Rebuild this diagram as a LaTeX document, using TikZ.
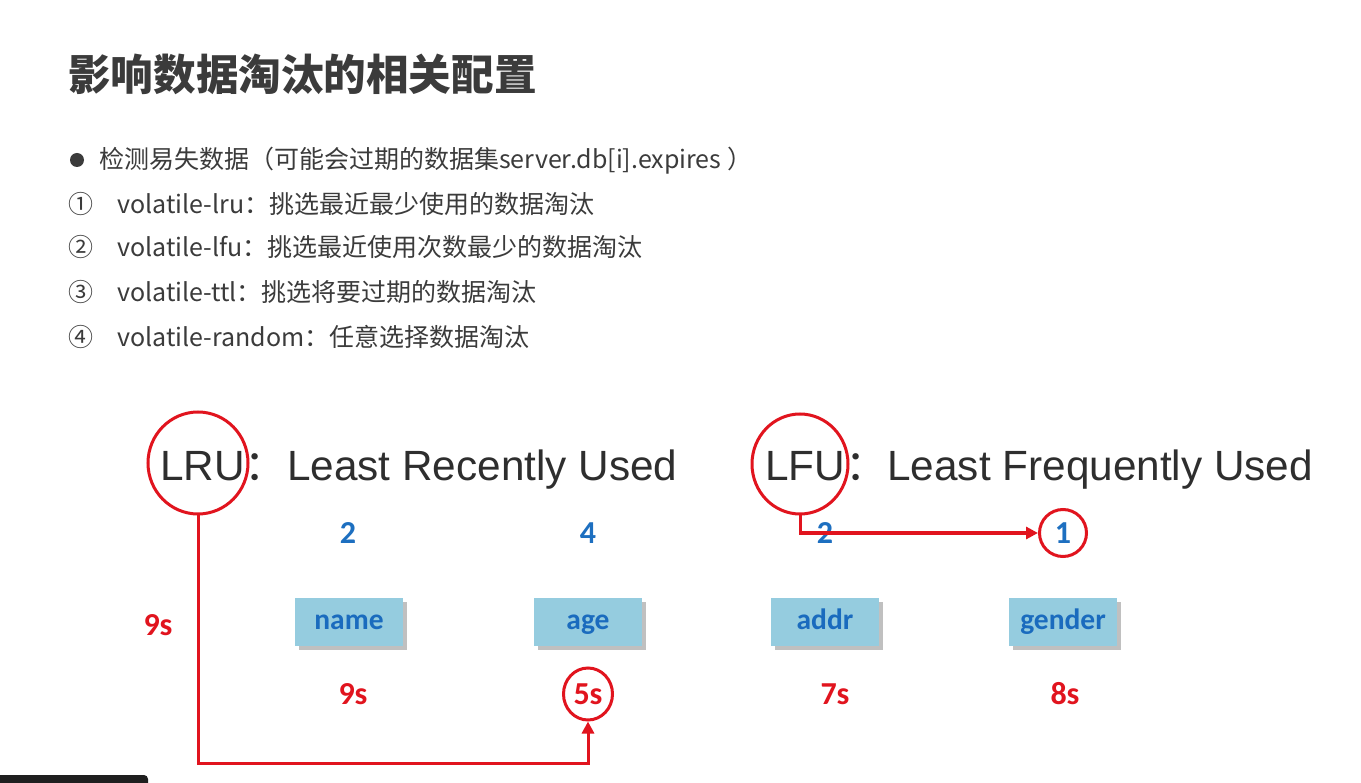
\documentclass[tikz,border=0pt]{standalone}
\usepackage{fontspec}
\setmainfont{Noto Sans CJK SC}
\newfontfamily\cjkfont{Noto Sans CJK SC}
\newfontfamily\headfont{Liberation Sans}
\newfontfamily\labelfont{Carlito}
\usetikzlibrary{arrows.meta,shadows,shapes.geometric}
\definecolor{txt}{HTML}{3B3B3B}
\definecolor{headtxt}{HTML}{2E2E2E}
\definecolor{mark}{HTML}{E1141E}
\definecolor{numblue}{HTML}{1D6FC0}
\definecolor{keyfill}{HTML}{95CCDF}
\definecolor{keytext}{HTML}{1A6BBE}
\begin{document}
\begin{tikzpicture}[x=1pt,y=-1pt,
  title/.style={anchor=base west, inner sep=0, text=txt,
    font=\cjkfont\bfseries\fontsize{42.6}{50}\selectfont},
  item/.style={anchor=base west, inner sep=0, text=txt,
    font=\cjkfont\fontsize{25}{30}\selectfont},
  heading/.style={anchor=base west, inner sep=0, text=headtxt,
    font=\headfont\fontsize{42.3}{50}\selectfont},
  count/.style={inner sep=0, text=numblue,
    font=\labelfont\bfseries\fontsize{32}{38}\selectfont},
  ttl/.style={inner sep=0, text=mark,
    font=\labelfont\bfseries\fontsize{32}{38}\selectfont},
  key/.style={fill=keyfill, minimum width=108pt, minimum height=48pt,
    inner sep=0, text=keytext, text height=21pt, text depth=6pt,
    font=\labelfont\bfseries\fontsize{29.5}{35}\selectfont,
    drop shadow={shadow xshift=4pt, shadow yshift=-4pt, opacity=0.35, fill=black!70}},
  ring/.style={ellipse, draw=mark, line width=3pt},
  link/.style={draw=mark, line width=3pt, -{Triangle[length=12pt,width=12pt]}}
]
\useasboundingbox (0,0) rectangle (1361,783);
\fill[white] (0,0) rectangle (1361,783);

% title and the list of volatile policies
\node[title] (title) at (68,91) {影响数据淘汰的相关配置};
\node[circle, fill=txt, minimum size=14pt, inner sep=0] (dot) at (77,160) {};
\node[item] (l0) at (99,169) {检测易失数据（可能会过期的数据集server.db[i].expires ）};
\node[item] (n1) at (68,214) {①};
\node[item] (l1) at (117,214) {volatile-lru：挑选最近最少使用的数据淘汰};
\node[item] (n2) at (68,257) {②};
\node[item] (l2) at (117,257) {volatile-lfu：挑选最近使用次数最少的数据淘汰};
\node[item] (n3) at (68,302) {③};
\node[item] (l3) at (117,302) {volatile-ttl：挑选将要过期的数据淘汰};
\node[item] (n4) at (68,347) {④};
\node[item] (l4) at (117,347) {volatile-random：任意选择数据淘汰};

% LRU / LFU headings
\node[heading] (lruhead) at (160,481) {LRU{\cjkfont ：}Least Recently Used};
\node[heading] (lfuhead) at (765,481) {LFU{\cjkfont ：}Least Frequently Used};
\node[ring, minimum width=100pt, minimum height=102pt] (lru) at (198,463) {};
\node[ring, minimum width=96pt, minimum height=100pt] (lfu) at (800,464) {};

% access counts
\node[count] (c2a) at (348,533) {2};
\node[count] (c4) at (588,533) {4};
\node[count] (c2b) at (825,533) {2};
\node[count, ring, minimum width=47pt, minimum height=47pt] (c1) at (1063,533) {1};

% keys
\node[key] (kname) at (349,622) {name};
\node[key] (kage) at (588,622) {age};
\node[key] (kaddr) at (825,622) {addr};
\node[key] (kgender) at (1063,622) {gender};

% remaining lifetimes
\node[ttl] (tleft) at (158,625) {9s};
\node[ttl] (t9) at (353,694) {9s};
\node[ttl, ring, minimum width=49pt, minimum height=52pt] (t5) at (588,694) {5s};
\node[ttl] (t7) at (835,694) {7s};
\node[ttl] (t8) at (1065,694) {8s};

% connectors
\coordinate (lrubend) at (198,763);
\draw[link] (lru.south) -- (lrubend) -| (t5.south);
\draw[link] (lfu.south) |- (c1.west);

% player bar in the lower left corner
\fill[black!88] (0,783) -- (0,775) [rounded corners=4pt] -- (148,775) [sharp corners] -- (148,783) -- cycle;
\end{tikzpicture}
\end{document}
